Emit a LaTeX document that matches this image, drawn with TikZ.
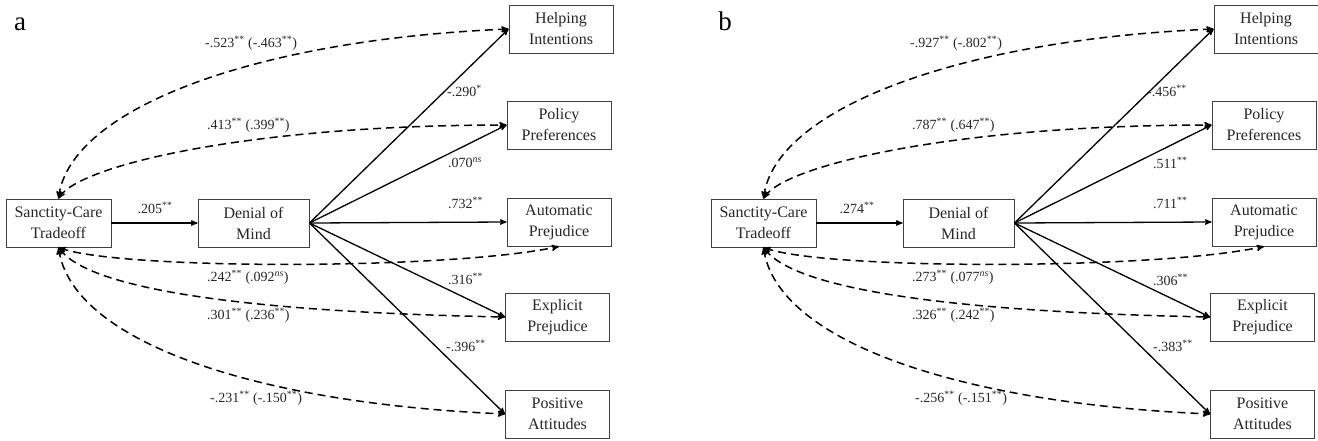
\documentclass[tikz,border=0pt]{standalone}
\usepackage{fontspec}
\setmainfont{Liberation Serif}
\usetikzlibrary{arrows,positioning}

\newcommand{\sig}[1]{\textsuperscript{#1}}
\newcommand{\nsig}{\textsuperscript{\textit{ns}}}

\tikzset{
  var/.style={draw=black!75, line width=0.9pt, minimum width=104pt, minimum height=48pt,
    align=center, inner sep=1pt, text=black!85, font=\fontsize{16}{21}\selectfont},
  lbl/.style={inner sep=0pt, text=black!85, font=\fontsize{14}{16}\selectfont},
  tag/.style={inner sep=0pt, anchor=base, font=\fontsize{27}{30}\selectfont},
  direct/.style={->, line width=1.3pt},
  corr/.style={<->, line width=1.5pt, dash pattern=on 8pt off 5pt},
}

\begin{document}
\begin{tikzpicture}[x=1pt, y=-1pt, >=stealth']
  \useasboundingbox (0,0) rectangle (1318,440);

  % panel a
  \begin{scope}[name prefix=a-]
    \node[tag] (tag) at (20,30) {a};
    \node[var, minimum width=105pt] (SC) at (58.5,223) {Sanctity-Care\\Tradeoff};
    \node[var, minimum width=111pt] (DM) at (253.5,223) {Denial of\\Mind};
    \node[var] (HI) at (561,29) {Helping\\Intentions};
    \node[var] (PP) at (559,125) {Policy\\Preferences};
    \node[var] (AP) at (559,222) {Automatic\\Prejudice};
    \node[var] (EP) at (557.5,317) {Explicit\\Prejudice};
    \node[var] (PA) at (557.5,414) {Positive\\Attitudes};

    \path[direct] (SC) edge (DM)
      (DM.east) edge (HI.west)
      (DM.east) edge (PP.west)
      (DM.east) edge (AP.west)
      (DM.east) edge (EP.west)
      (DM.east) edge (PA.west);

    \draw[corr] (SC.north) .. controls (70,110) and (250,40) .. (HI.west);
    \draw[corr] (SC.north) .. controls (80,165) and (250,125) .. (PP.west);
    \draw[corr] (SC.south) .. controls (120,270) and (450,270) .. (AP.south);
    \draw[corr] (SC.south) .. controls (90,290) and (250,312) .. (EP.west);
    \draw[corr] (SC.south) .. controls (72,340) and (250,403) .. (PA.west);

    \node[lbl] (d0) at (155,208) {.205\sig{**}};
    \node[lbl, anchor=west] (d1) at (447,91) {-.290\sig{*}};
    \node[lbl, anchor=west] (d2) at (448,163) {.070\nsig};
    \node[lbl, anchor=west] (d3) at (448,203) {.732\sig{**}};
    \node[lbl, anchor=west] (d4) at (448,279) {.316\sig{**}};
    \node[lbl, anchor=west] (d5) at (446,346) {-.396\sig{**}};

    \node[lbl, anchor=west] (c1) at (205,43) {-.523\sig{**} (-.463\sig{**})};
    \node[lbl, anchor=west] (c2) at (207,125) {.413\sig{**} (.399\sig{**})};
    \node[lbl, anchor=west] (c3) at (207,277) {.242\sig{**} (.092\nsig)};
    \node[lbl, anchor=west] (c4) at (207,315) {.301\sig{**} (.236\sig{**})};
    \node[lbl, anchor=west] (c5) at (210,398) {-.231\sig{**} (-.150\sig{**})};
  \end{scope}

  % panel b
  \begin{scope}[xshift=705pt, name prefix=b-]
    \node[tag] (tag) at (20,30) {b};
    \node[var, minimum width=105pt] (SC) at (58.5,223) {Sanctity-Care\\Tradeoff};
    \node[var, minimum width=111pt] (DM) at (253.5,223) {Denial of\\Mind};
    \node[var] (HI) at (561,29) {Helping\\Intentions};
    \node[var] (PP) at (559,125) {Policy\\Preferences};
    \node[var] (AP) at (559,222) {Automatic\\Prejudice};
    \node[var] (EP) at (557.5,317) {Explicit\\Prejudice};
    \node[var] (PA) at (557.5,414) {Positive\\Attitudes};

    \path[direct] (SC) edge (DM)
      (DM.east) edge (HI.west)
      (DM.east) edge (PP.west)
      (DM.east) edge (AP.west)
      (DM.east) edge (EP.west)
      (DM.east) edge (PA.west);

    \draw[corr] (SC.north) .. controls (70,110) and (250,40) .. (HI.west);
    \draw[corr] (SC.north) .. controls (80,165) and (250,125) .. (PP.west);
    \draw[corr] (SC.south) .. controls (120,270) and (450,270) .. (AP.south);
    \draw[corr] (SC.south) .. controls (90,290) and (250,312) .. (EP.west);
    \draw[corr] (SC.south) .. controls (72,340) and (250,403) .. (PA.west);

    \node[lbl] (d0) at (152,208) {.274\sig{**}};
    \node[lbl, anchor=west] (d1) at (442,91) {-.456\sig{**}};
    \node[lbl, anchor=west] (d2) at (448,163) {.511\sig{**}};
    \node[lbl, anchor=west] (d3) at (448,203) {.711\sig{**}};
    \node[lbl, anchor=west] (d4) at (448,280) {.306\sig{**}};
    \node[lbl, anchor=west] (d5) at (448,346) {-.383\sig{**}};

    \node[lbl, anchor=west] (c1) at (205,43) {-.927\sig{**} (-.802\sig{**})};
    \node[lbl, anchor=west] (c2) at (207,125) {.787\sig{**} (.647\sig{**})};
    \node[lbl, anchor=west] (c3) at (207,277) {.273\sig{**} (.077\nsig)};
    \node[lbl, anchor=west] (c4) at (207,315) {.326\sig{**} (.242\sig{**})};
    \node[lbl, anchor=west] (c5) at (210,398) {-.256\sig{**} (-.151\sig{**})};
  \end{scope}
\end{tikzpicture}
\end{document}
